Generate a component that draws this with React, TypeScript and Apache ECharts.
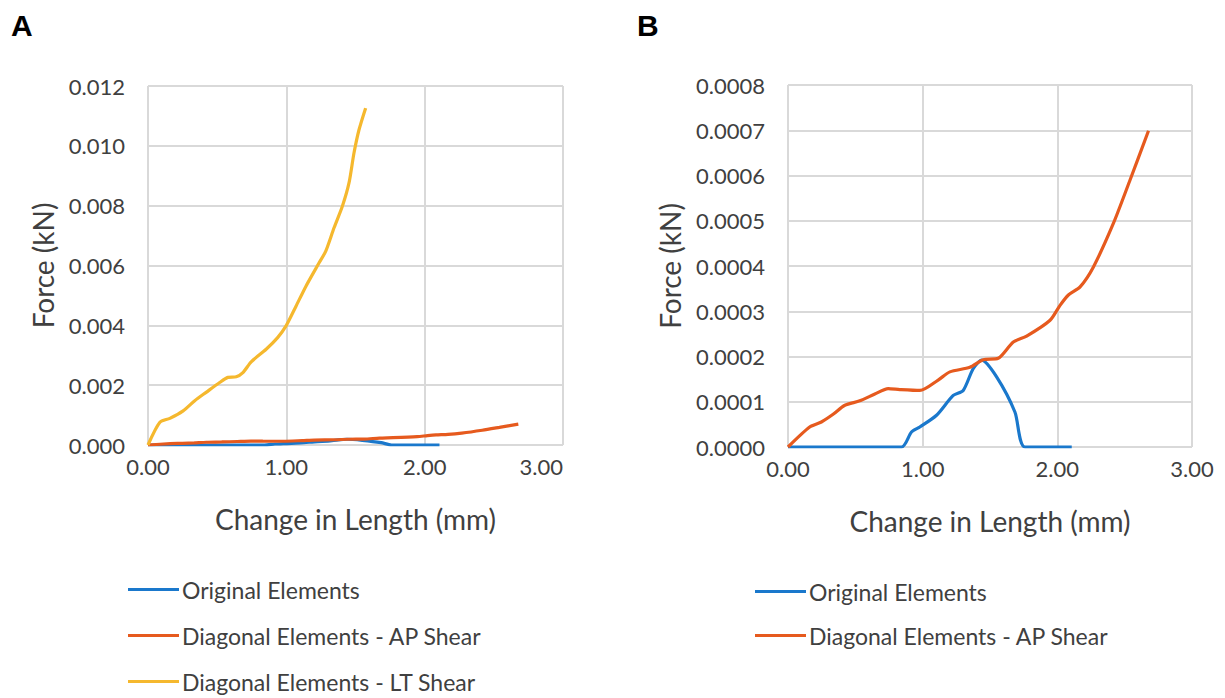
import React, { useEffect, useRef } from "react";
import * as echarts from "echarts";

// Original Elements (shared by A and B)
const origX = [0, 0.843, 0.917, 0.979, 1.103, 1.227, 1.301, 1.375, 1.438, 1.549, 1.685, 1.76, 2.107];
const origY = [0, 0, 0.0000332, 0.0000442, 0.0000701, 0.000114, 0.000125, 0.000173, 0.000192, 0.000155, 0.0000774, 0, 0];

// Diagonal Elements - AP Shear (shared by A and B)
const apX = [0, 0.161, 0.248, 0.335, 0.422, 0.533, 0.645, 0.744, 0.83, 0.979, 1.115, 1.202, 1.35, 1.45, 1.561, 1.673, 1.772, 1.946, 2.02, 2.082, 2.169, 2.268, 2.416, 2.54, 2.677];
const apY = [0, 0.0000442, 0.0000553, 0.0000723, 0.0000922, 0.000102, 0.000117, 0.000129, 0.000127, 0.000125, 0.000148, 0.000166, 0.000176, 0.000193, 0.000196, 0.000232, 0.000245, 0.00028, 0.000313, 0.000336, 0.000354, 0.000398, 0.000494, 0.00059, 0.000699];

// Diagonal Elements - LT Shear (chart A only)
const ltX = [0, 0.086, 0.158, 0.254, 0.338, 0.42, 0.518, 0.578, 0.638, 0.686, 0.746, 0.854, 0.937, 0.998, 1.07, 1.142, 1.237, 1.285, 1.345, 1.405, 1.453, 1.489, 1.525, 1.573];
const ltY = [0, 0.00076, 0.00089, 0.00114, 0.00148, 0.00176, 0.00209, 0.00226, 0.00228, 0.00242, 0.00278, 0.0032, 0.00359, 0.00398, 0.00464, 0.00531, 0.00609, 0.00648, 0.00726, 0.00798, 0.00876, 0.00976, 0.01053, 0.01126];

const seriesNames = ["Original Elements", "Diagonal Elements - AP Shear", "Diagonal Elements - LT Shear"];
const panelLabels = ["A", "B"];
const xTitle = "Change in Length (mm)";
const yTitle = "Force (kN)";

const zip = (xs: number[], ys: number[]) => xs.map((x, i) => [x, ys[i]]);

const BLUE = "#1a78cc";
const ORANGE = "#e65a1e";
const YELLOW = "#f5b82e";
const TEXT = "#404040";
const GRID = "#d9d9d9";
const FONT = "Lato";

export default function App() {
  const ref = useRef<HTMLDivElement>(null);
  useEffect(() => {
    if (!ref.current) return;
    const chart = echarts.init(ref.current, undefined, { renderer: "svg" });

    const xAxisBase = (gridIndex: number) => ({
      type: "value" as const,
      gridIndex,
      min: 0,
      max: 3,
      interval: 1,
      name: xTitle,
      nameLocation: "middle" as const,
      nameGap: 60,
      nameTextStyle: { fontFamily: FONT, fontSize: 28, color: TEXT },
      axisLine: { show: false },
      axisTick: { show: false },
      axisLabel: {
        fontFamily: FONT,
        fontSize: 22,
        color: TEXT,
        margin: 10,
        formatter: (v: number) => v.toFixed(2),
        alignMaxLabel: gridIndex === 0 ? ("right" as const) : undefined,
      },
      splitLine: { show: true, lineStyle: { color: GRID, width: 2 } },
    });

    const yAxisBase = (gridIndex: number, max: number, interval: number, digits: number, gap: number) => ({
      type: "value" as const,
      gridIndex,
      min: 0,
      max,
      interval,
      name: yTitle,
      nameLocation: "middle" as const,
      nameGap: gap,
      nameTextStyle: { fontFamily: FONT, fontSize: 28, color: TEXT },
      axisLine: { show: false },
      axisTick: { show: false },
      axisLabel: {
        fontFamily: FONT,
        fontSize: 22,
        color: TEXT,
        margin: 23,
        formatter: (v: number) => v.toFixed(digits),
      },
      splitLine: { show: true, lineStyle: { color: GRID, width: 2 } },
    });

    const lineSeries = (name: string, color: string, data: number[][], idx: number, z: number) => ({
      type: "line" as const,
      name,
      data,
      xAxisIndex: idx,
      yAxisIndex: idx,
      showSymbol: false,
      symbol: "none",
      smooth: 0.25,
      z,
      lineStyle: { color, width: 3.2 },
      itemStyle: { color },
    });

    const legendBase = {
      orient: "vertical" as const,
      icon: "rect",
      itemWidth: 51,
      itemHeight: 3,
      itemGap: 23,
      textStyle: { fontFamily: FONT, fontSize: 23, color: TEXT, padding: [0, 0, 0, -2] },
      selectedMode: false,
    };

    chart.setOption({
      animation: false,
      backgroundColor: "#ffffff",
      grid: [
        { left: 148, top: 86, width: 415, height: 359 },
        { left: 788, top: 85, width: 404, height: 362 },
      ],
      xAxis: [xAxisBase(0), xAxisBase(1)],
      yAxis: [
        yAxisBase(0, 0.012, 0.002, 3, 91),
        yAxisBase(1, 0.0008, 0.0001, 4, 104),
      ],
      legend: [
        { ...legendBase, left: 123, top: 573, data: seriesNames },
        { ...legendBase, left: 750, top: 575, itemGap: 21, data: seriesNames.slice(0, 2) },
      ],
      series: [
        lineSeries(seriesNames[0], BLUE, zip(origX, origY), 0, 2),
        lineSeries(seriesNames[1], ORANGE, zip(apX, apY), 0, 3),
        lineSeries(seriesNames[2], YELLOW, zip(ltX, ltY), 0, 4),
        lineSeries(seriesNames[0], BLUE, zip(origX, origY), 1, 2),
        lineSeries(seriesNames[1], ORANGE, zip(apX, apY), 1, 3),
      ],
      graphic: [
        {
          type: "text",
          left: 11,
          top: 10,
          style: { text: panelLabels[0], fontFamily: "Liberation Sans", fontWeight: "bold", fontSize: 30, fill: "#000" },
        },
        {
          type: "text",
          left: 637,
          top: 10,
          style: { text: panelLabels[1], fontFamily: "Liberation Sans", fontWeight: "bold", fontSize: 30, fill: "#000" },
        },
      ],
    });
    return () => chart.dispose();
  }, []);

  return <div ref={ref} style={{ width: 1225, height: 698, position: "absolute", left: 0, top: 0 }} />;
}
